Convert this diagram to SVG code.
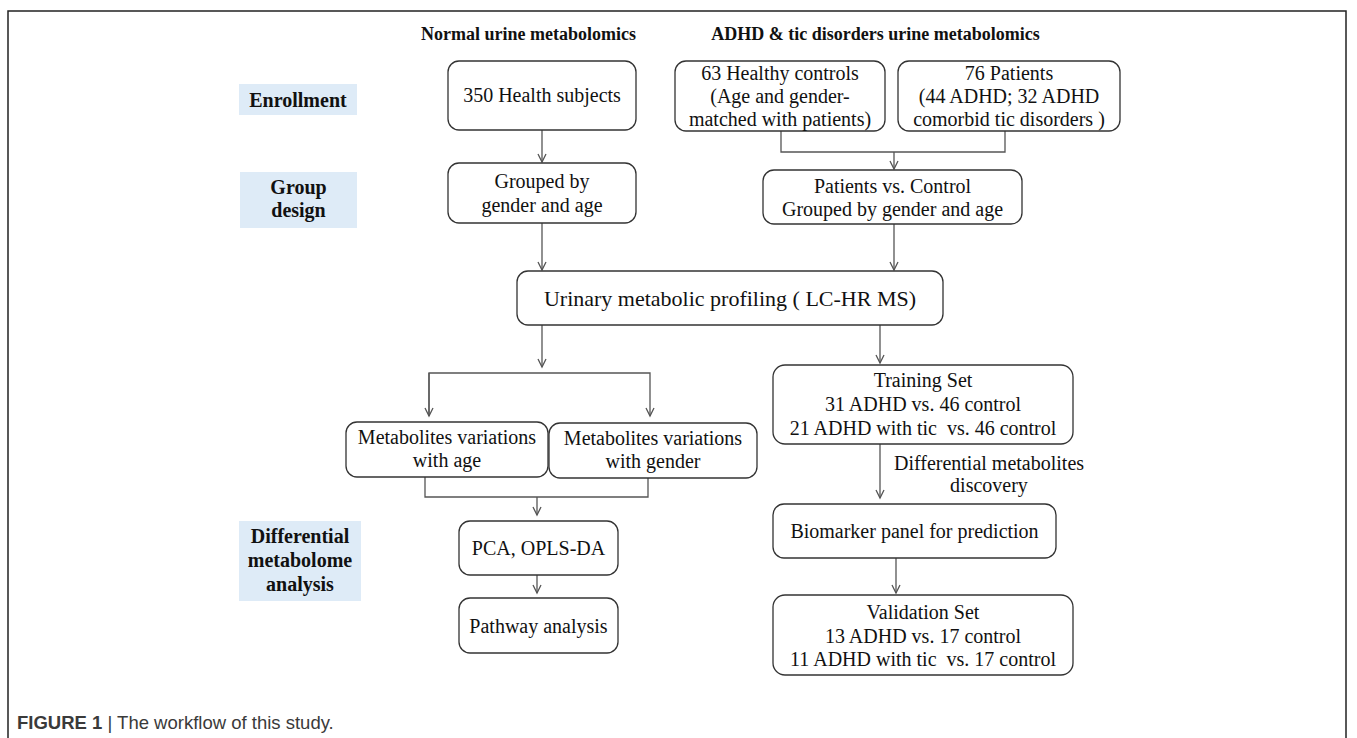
<svg xmlns="http://www.w3.org/2000/svg" width="1357" height="738" viewBox="0 0 1357 738">
<style>
.box{fill:#fff;stroke:#333;stroke-width:1.3}
.lbl{fill:#deebf7;stroke:none}
.t{font-family:"Liberation Serif","Times New Roman",serif;font-size:20px;fill:#111;text-anchor:middle}
.tb{font-family:"Liberation Serif","Times New Roman",serif;font-size:20px;font-weight:bold;fill:#111;text-anchor:middle}
.hd{font-family:"Liberation Serif","Times New Roman",serif;font-size:18px;font-weight:bold;fill:#111;text-anchor:middle}
.ln{fill:none;stroke:#555;stroke-width:1.3}
.ar{fill:none;stroke:#555;stroke-width:1.3;marker-end:url(#ah)}
</style>
<defs>
<marker id="ah" markerUnits="userSpaceOnUse" markerWidth="12" markerHeight="12" refX="9" refY="5" orient="auto">
<path d="M1,1 L9,5 L1,9" fill="none" stroke="#555" stroke-width="1.3"/>
</marker>
</defs>
<rect x="8" y="11" width="1338" height="740" fill="#fff" stroke="#222" stroke-width="1.5"/>
<text class="hd" x="528.5" y="40">Normal urine metabolomics</text>
<text class="hd" x="875.5" y="40">ADHD &amp; tic disorders urine metabolomics</text>

<g id="stage-enrollment">
<rect class="lbl" x="239" y="84" width="118" height="31"/>
<text class="tb" x="298" y="107">Enrollment</text>
</g>
<g id="stage-group">
<rect class="lbl" x="240" y="172" width="117" height="56"/>
<text class="tb" x="298.5" y="194">Group</text>
<text class="tb" x="298.5" y="217">design</text>
</g>
<g id="stage-diff">
<rect class="lbl" x="239" y="521" width="122" height="80"/>
<text class="tb" x="300" y="543">Differential</text>
<text class="tb" x="300" y="567">metabolome</text>
<text class="tb" x="300" y="591">analysis</text>
</g>

<g id="connectors">
<line class="ar" x1="542" y1="130" x2="542" y2="162"/>
<line class="ar" x1="542" y1="223" x2="542" y2="270"/>
<polyline class="ln" points="781,131 781,152 1005,152 1005,131"/>
<line class="ar" x1="894" y1="152" x2="894" y2="169"/>
<line class="ar" x1="894" y1="224" x2="894" y2="270"/>
<line class="ar" x1="542" y1="325" x2="542" y2="367"/>
<polyline class="ln" points="429,416 429,373 650,373 650,416" style="marker-end:url(#ah)"/>
<line class="ar" x1="429" y1="373" x2="429" y2="416"/>
<polyline class="ln" points="425,477 425,497 648,497 648,478"/>
<line class="ar" x1="537" y1="497" x2="537" y2="515"/>
<line class="ar" x1="537" y1="575" x2="537" y2="593"/>
<line class="ar" x1="880" y1="325" x2="880" y2="363"/>
<line class="ar" x1="880" y1="444" x2="880" y2="498"/>
<text class="t" x="989" y="470">Differential metabolites</text>
<text class="t" x="989" y="492">discovery</text>
<line class="ar" x1="896" y1="558" x2="896" y2="593"/>
</g>

<g id="n-health350">
<rect class="box" x="448" y="61" width="188" height="69" rx="11"/>
<text class="t" x="542" y="102">350 Health subjects</text>
</g>
<g id="n-controls63">
<rect class="box" x="675" y="61" width="210" height="70" rx="11"/>
<text class="t" x="780" y="80">63 Healthy controls</text>
<text class="t" x="780" y="103">(Age and gender-</text>
<text class="t" x="780" y="126">matched with patients)</text>
</g>
<g id="n-patients76">
<rect class="box" x="898" y="61" width="222" height="70" rx="11"/>
<text class="t" x="1009" y="80">76 Patients</text>
<text class="t" x="1009" y="103">(44 ADHD; 32 ADHD</text>
<text class="t" x="1009" y="126">comorbid tic disorders )</text>
</g>
<g id="n-grouped">
<rect class="box" x="448" y="163" width="188" height="60" rx="11"/>
<text class="t" x="542" y="188">Grouped by</text>
<text class="t" x="542" y="212">gender and age</text>
</g>
<g id="n-patvsctrl">
<rect class="box" x="763" y="170" width="259" height="54" rx="11"/>
<text class="t" x="892.5" y="193">Patients vs. Control</text>
<text class="t" x="892.5" y="216">Grouped by gender and age</text>
</g>
<g id="n-urinary">
<rect class="box" x="517" y="271" width="426" height="54" rx="11"/>
<text class="t" x="730" y="306" style="font-size:22px">Urinary metabolic profiling ( LC-HR MS)</text>
</g>
<g id="n-var-age">
<rect class="box" x="346" y="422" width="202" height="55" rx="11"/>
<text class="t" x="447" y="444">Metabolites variations</text>
<text class="t" x="447" y="467">with age</text>
</g>
<g id="n-var-gender">
<rect class="box" x="549" y="423" width="208" height="55" rx="11"/>
<text class="t" x="653" y="445">Metabolites variations</text>
<text class="t" x="653" y="468">with gender</text>
</g>
<g id="n-pca">
<rect class="box" x="459" y="521" width="159" height="54" rx="11"/>
<text class="t" x="538.5" y="555">PCA, OPLS-DA</text>
</g>
<g id="n-pathway">
<rect class="box" x="459" y="598" width="159" height="55" rx="11"/>
<text class="t" x="538.5" y="633">Pathway analysis</text>
</g>
<g id="n-training">
<rect class="box" x="773" y="365" width="300" height="79" rx="12"/>
<text class="t" x="923" y="387">Training Set</text>
<text class="t" x="923" y="411">31 ADHD vs. 46 control</text>
<text class="t" x="923" y="435" xml:space="preserve">21 ADHD with tic  vs. 46 control</text>
</g>
<g id="n-biomarker">
<rect class="box" x="773" y="504" width="283" height="54" rx="11"/>
<text class="t" x="914.5" y="538">Biomarker panel for prediction</text>
</g>
<g id="n-validation">
<rect class="box" x="773" y="595" width="300" height="80" rx="12"/>
<text class="t" x="923" y="619">Validation Set</text>
<text class="t" x="923" y="643">13 ADHD vs. 17 control</text>
<text class="t" x="923" y="666" xml:space="preserve">11 ADHD with tic  vs. 17 control</text>
</g>

<text x="17" y="729" style="font-family:'Liberation Sans',Arial,sans-serif;font-size:18.5px;fill:#3a3a3a"><tspan font-weight="bold">FIGURE 1</tspan><tspan> | </tspan><tspan>The workflow of this study.</tspan></text>
</svg>
